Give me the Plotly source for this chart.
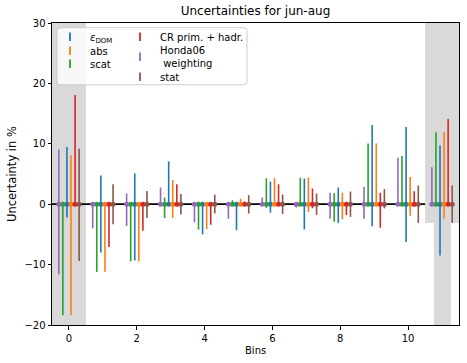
import plotly.graph_objects as go

# ---- data ----
bins = [0, 1, 2, 3, 4, 5, 6, 7, 8, 9, 10, 11]
central = [0, 0, 0, 0, 0, 0, 0, 0, 0, 0, 0, 0]

edom_up   = [9.45, 4.75, 5.1, 7.1, 0.0, 0.0, 3.75, 4.25, 2.76, 13.1, 12.8, 9.7]
edom_down = [2.2, 8.0, 9.3, 0.3, 5.0, 4.3, 1.4, 4.2, 3.1, 3.65, 6.25, 8.5]

abs_up    = [8.1, 0.0, 0.0, 4.0, 0.0, 0.9, 4.3, 4.4, 1.9, 10.06, 4.5, 11.9]
abs_down  = [18.4, 11.2, 9.45, 2.3, 4.1, 0.3, 0.0, 1.3, 2.5, 0.3, 1.9, 2.4]

scat_up   = [0.0, 0.0, 0.0, 1.1, 0.0, 0.66, 4.3, 4.4, 1.8, 10.06, 7.96, 11.9]
scat_down = [18.4, 11.2, 9.45, 2.3, 4.2, 0.33, 0.6, 0.3, 2.9, 0.3, 0.3, 0.0]

cr_up     = [18.1, 0.0, 0.0, 3.3, 0.0, 0.45, 3.3, 2.6, 0.3, 1.9, 2.15, 14.1]
cr_down   = [0.0, 7.1, 4.4, 0.3, 3.4, 0.2, 0.0, 0.66, 1.8, 3.9, 0.4, 0.0]

honda_up   = [9.06, 0.0, 1.77, 2.76, 0.0, 0.0, 1.1, 0.0, 1.9, 2.9, 7.7, 6.1]
honda_down = [11.6, 4.0, 3.6, 0.0, 3.0, 2.4, 0.0, 0.55, 2.4, 2.4, 0.0, 0.0]

stat_up   = [9.2, 3.3, 2.2, 1.7, 1.55, 1.5, 1.6, 1.77, 2.1, 2.5, 3.1, 3.1]
stat_down = [9.4, 3.3, 2.3, 1.7, 1.55, 1.55, 1.6, 1.77, 2.1, 0.7, 3.1, 3.1]

labels = ["<i>ε</i><sub>DOM</sub>", "abs", "scat", "CR prim. + hadr.", "Honda06<br> weighting", "stat"]
x_ticks = [0, 2, 4, 6, 8, 10]
y_ticks = [-20, -10, 0, 10, 20, 30]

# ---- style ----
FONT = "DejaVu Sans"
W, H = 467, 363
L, R, T, B = 52, 459, 23.3, 325


def px(xp):
    return (xp - L) / (R - L)


def py(yp):
    return 1 - (yp - T) / (B - T)


series = [
    # label, up, down, colour, x offset, legend name, legend anchor (px)
    (labels[0], edom_up, edom_down, "#1f77b4", -0.06, "legend", (50, 37)),
    (labels[1], abs_up, abs_down, "#ff7f0e", 0.06, "legend2", (50, 51)),
    (labels[2], scat_up, scat_down, "#2ca02c", -0.18, "legend3", (50, 64)),
    (labels[3], cr_up, cr_down, "#d62728", 0.18, "legend4", (120, 37)),
    (labels[4], honda_up, honda_down, "#9467bd", -0.30, "legend5", (120, 57)),
    (labels[5], stat_up, stat_down, "#8c564b", 0.30, "legend6", (120, 77)),
]

fig = go.Figure()

for name, up, down, col, off, leg, _ in series:
    fig.add_trace(go.Scatter(
        x=[b + off for b in bins], y=central, mode="markers",
        marker=dict(color=col, size=5, symbol="circle"),
        error_y=dict(type="data", symmetric=False, array=up, arrayminus=down,
                     color=col, thickness=1.6, width=0),
        showlegend=False, hoverinfo="skip"))

# legend-only entries (vertical errorbar glyph)
for name, up, down, col, off, leg, _ in series:
    fig.add_trace(go.Scatter(
        x=[None], y=[None], mode="markers", name=name,
        marker=dict(color=col, size=6, symbol="line-ns",
                    line=dict(color=col, width=1.8)),
        showlegend=True, legend=leg))

layout_legends = {}
for name, up, down, col, off, leg, (lx, ly) in series:
    layout_legends[leg] = dict(
        xref="paper", yref="paper",
        x=px(lx), y=py(ly), xanchor="left", yanchor="middle",
        bgcolor="rgba(0,0,0,0)", borderwidth=0,
        font=dict(family=FONT, size=10, color="black"),
        itemsizing="trace")

# shapes
shapes = [
    dict(type="rect", xref="x", yref="paper", x0=-0.5, x1=0.5, y0=0, y1=1,
         fillcolor="#d9d9d9", line=dict(width=0), layer="below"),
    dict(type="rect", xref="x", yref="y", x0=10.5, x1=11.5, y0=-3.1, y1=30,
         fillcolor="#d9d9d9", line=dict(width=0), layer="below"),
    dict(type="rect", xref="x", yref="y", x0=10.76, x1=11.26, y0=-20, y1=-3.1,
         fillcolor="#d9d9d9", line=dict(width=0), layer="below"),
    dict(type="line", xref="paper", yref="y", x0=0, x1=1, y0=0, y1=0,
         line=dict(color="black", width=1.8), layer="below"),
]

fx0, fx1, fy0, fy1, r = 57, 247, 28, 85, 3
path = (f"M {px(fx0 + r)},{py(fy0)} L {px(fx1 - r)},{py(fy0)} "
        f"Q {px(fx1)},{py(fy0)} {px(fx1)},{py(fy0 + r)} "
        f"L {px(fx1)},{py(fy1 - r)} Q {px(fx1)},{py(fy1)} {px(fx1 - r)},{py(fy1)} "
        f"L {px(fx0 + r)},{py(fy1)} Q {px(fx0)},{py(fy1)} {px(fx0)},{py(fy1 - r)} "
        f"L {px(fx0)},{py(fy0 + r)} Q {px(fx0)},{py(fy0)} {px(fx0 + r)},{py(fy0)} Z")
shapes.append(dict(type="path", xref="paper", yref="paper", path=path,
                   fillcolor="rgba(255,255,255,0.8)",
                   line=dict(color="#cccccc", width=1), layer="above"))

axis_common = dict(showline=True, mirror=True, linecolor="black", linewidth=1,
                   ticks="outside", ticklen=3.5, tickwidth=0.8, tickcolor="black",
                   showgrid=False, zeroline=False,
                   tickfont=dict(family=FONT, size=10, color="black"))

fig.update_layout(
    width=W, height=H,
    margin=dict(l=L, r=W - R, t=T, b=H - B, pad=0, autoexpand=False),
    plot_bgcolor="white", paper_bgcolor="white",
    font=dict(family=FONT, size=10, color="black"),
    title=dict(text="Uncertainties for jun-aug", x=(L + R) / 2 / W, xanchor="center",
               xref="container", yref="container", y=1 - 10.5 / H, yanchor="middle",
               font=dict(family=FONT, size=12, color="black")),
    xaxis=dict(range=[-0.5, 11.5], tickvals=x_ticks, **axis_common),
    yaxis=dict(range=[-20, 30], tickvals=y_ticks, **axis_common),
    shapes=shapes,
    annotations=[
        dict(text="Bins", xref="paper", yref="paper", x=0.5, y=py(350),
             xanchor="center", yanchor="middle", showarrow=False,
             font=dict(family=FONT, size=10, color="black")),
        dict(text="Uncertainty in %", xref="paper", yref="paper", x=px(12), y=0.5,
             xanchor="center", yanchor="middle", textangle=-90, showarrow=False,
             font=dict(family=FONT, size=11.5, color="black")),
    ],
    **layout_legends,
)

fig.write_html("out.html", config={"displayModeBar": False},
               post_script="document.body.style.margin='0';document.body.style.padding='0';")
